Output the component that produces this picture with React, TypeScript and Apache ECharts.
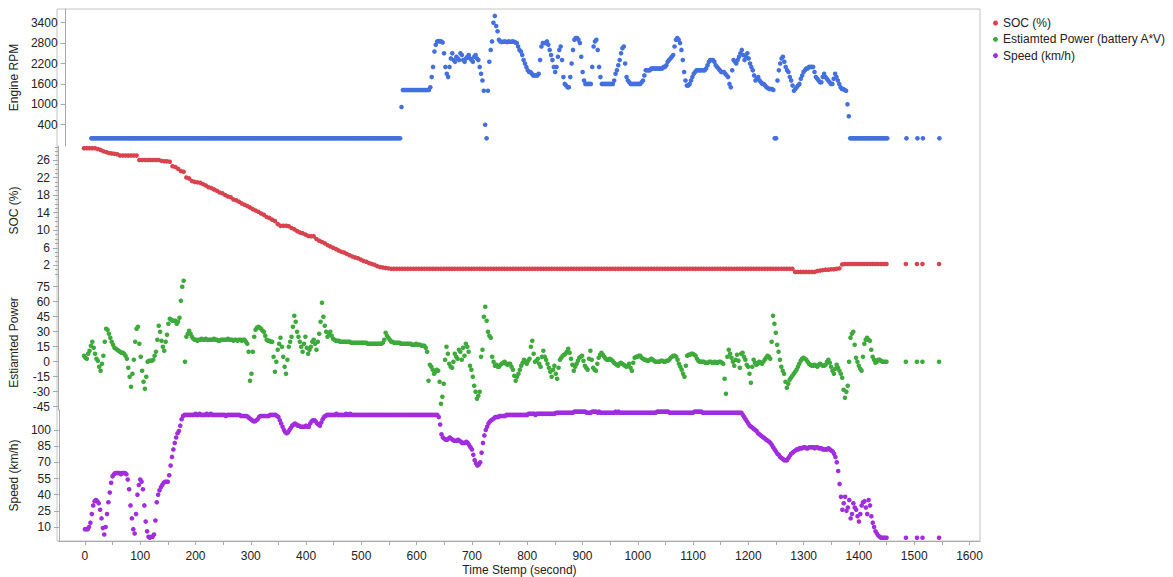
import React, { useEffect, useRef } from "react";
import * as echarts from "echarts";

// Main log sampled every 5 seconds, from t = 0 s to t = 1450 s (291 samples per series)
const SAMPLE_STEP = 5;
// Readings taken half-way between those samples (t = 2.5 s ... 1447.5 s, 290 samples)
const HALF_OFFSET = 2.5;

const engineRpm = [
  0, 0, 0, 0, 0, 0, 0, 0, 0, 0, // 0
  0, 0, 0, 0, 0, 0, 0, 0, 0, 0, // 50
  0, 0, 0, 0, 0, 0, 0, 0, 0, 0, // 100
  0, 0, 0, 0, 0, 0, 0, 0, 0, 0, // 150
  0, 0, 0, 0, 0, 0, 0, 0, 0, 0, // 200
  0, 0, 0, 0, 0, 0, 0, 0, 0, 0, // 250
  0, 0, 0, 0, 0, 0, 0, 0, 0, 0, // 300
  0, 0, 0, 0, 0, 0, 0, 0, 0, 0, // 350
  0, 0, 0, 0, 0, 0, 0, 0, 0, 0, // 400
  0, 0, 0, 0, 0, 0, 0, 0, 0, 0, // 450
  0, 0, 0, 0, 0, 0, 0, 0, 0, 0, // 500
  0, 0, 0, 920, 1420, 1420, 1420, 1420, 1420, 1420, // 550
  1420, 1420, 1420, 1420, 1800, 2550, 2850, 2850, 2820, 2100, // 600
  1800, 2350, 2300, 2400, 2300, 2450, 2250, 2400, 2350, 2250, // 650
  2450, 2300, 1900, 1400, 0, 2250, 2850, 3600, 3150, 2850, // 700
  2840, 2840, 2850, 2840, 2840, 2800, 2600, 2450, 2200, 2000, // 750
  1950, 1850, 1850, 1900, 2700, 2800, 2850, 2600, 2300, 1950, // 800
  2400, 2700, 1800, 1550, 1500, 2200, 2900, 2950, 2800, 1950, // 850
  1600, 1600, 1600, 2700, 2900, 2100, 1600, 1600, 1600, 1600, // 900
  1600, 1900, 2150, 2500, 2700, 1800, 1650, 1600, 1600, 1600, // 950
  1600, 1700, 2000, 2000, 2050, 2050, 2050, 2050, 2050, 2100, // 1000
  2250, 2350, 2450, 2900, 2900, 2600, 1950, 1550, 1600, 1800, // 1050
  1950, 2000, 2000, 2000, 2050, 2250, 2300, 2250, 2100, 2000, // 1100
  1950, 1900, 1800, 1500, 2300, 2200, 2400, 2600, 2300, 2500, // 1150
  2200, 2000, 1700, 1800, 1650, 1600, 1500, 1450, 1450, 0, // 1200
  1700, 2200, 2400, 2100, 1950, 1700, 1400, 1500, 1600, 1850, // 1250
  2000, 2050, 2100, 2100, 1800, 1700, 1650, 1900, 1750, 1650, // 1300
  1600, 1900, 1700, 1500, 1450, 1400, 650, 0, 0, 0, // 1350
  0, 0, 0, 0, 0, 0, 0, 0, 0, 0, // 1400
  0, // 1450
];

const engineRpmHalf = [
  0, 0, 0, 0, 0, 0, 0, 0, 0, 0, // 2.5
  0, 0, 0, 0, 0, 0, 0, 0, 0, 0, // 52.5
  0, 0, 0, 0, 0, 0, 0, 0, 0, 0, // 102.5
  0, 0, 0, 0, 0, 0, 0, 0, 0, 0, // 152.5
  0, 0, 0, 0, 0, 0, 0, 0, 0, 0, // 202.5
  0, 0, 0, 0, 0, 0, 0, 0, 0, 0, // 252.5
  0, 0, 0, 0, 0, 0, 0, 0, 0, 0, // 302.5
  0, 0, 0, 0, 0, 0, 0, 0, 0, 0, // 352.5
  0, 0, 0, 0, 0, 0, 0, 0, 0, 0, // 402.5
  0, 0, 0, 0, 0, 0, 0, 0, 0, 0, // 452.5
  0, 0, 0, 0, 0, 0, 0, 0, 0, 0, // 502.5
  0, 0, 0, 1420, 1420, 1420, 1420, 1420, 1420, 1420, // 552.5
  1420, 1420, 1420, 1500, 2100, 2750, 2860, 2850, 2500, 1900, // 602.5
  2100, 2500, 2250, 2350, 2500, 2300, 2350, 2450, 2300, 2400, // 652.5
  2350, 2100, 1700, 400, 1400, 2600, 3400, 3300, 2900, 2830, // 702.5
  2850, 2830, 2840, 2850, 2820, 2700, 2550, 2300, 2100, 1950, // 752.5
  1900, 1850, 1850, 2300, 2800, 2800, 2750, 2450, 2100, 2100, // 802.5
  2600, 2300, 1600, 1500, 1800, 2600, 2950, 2900, 2400, 1700, // 852.5
  1600, 1600, 2100, 2850, 2600, 1800, 1600, 1600, 1600, 1600, // 902.5
  1700, 2000, 2300, 2650, 2200, 1700, 1600, 1600, 1600, 1600, // 952.5
  1650, 1850, 2000, 2000, 2050, 2050, 2050, 2050, 2100, 2150, // 1002.5
  2300, 2400, 2700, 2950, 2800, 2300, 1700, 1550, 1700, 1900, // 1052.5
  2000, 2000, 2000, 2000, 2150, 2300, 2300, 2150, 2050, 1950, // 1102.5
  1950, 1850, 1600, 2000, 2250, 2300, 2500, 2450, 2400, 2350, // 1152.5
  2100, 1850, 1750, 1700, 1600, 1550, 1480, 1450, 1420, 0, // 1202.5
  2000, 2350, 2250, 2000, 1800, 1550, 1450, 1550, 1750, 1950, // 1252.5
  2050, 2100, 2100, 1950, 1750, 1650, 1800, 1800, 1700, 1600, // 1302.5
  1750, 1800, 1600, 1450, 1420, 1000, 0, 0, 0, 0, // 1352.5
  0, 0, 0, 0, 0, 0, 0, 0, 0, 0, // 1402.5
];

const soc = [
  28.7, 28.7, 28.7, 28.7, 28.7, 28.5, 28.3, 28.0, 27.8, 27.6, // 0
  27.5, 27.4, 27.3, 27.0, 27.0, 27.0, 27.0, 27.0, 27.0, 27.0, // 50
  26.0, 26.0, 26.0, 26.0, 26.0, 26.0, 26.0, 26.0, 25.8, 25.7, // 100
  25.7, 25.6, 24.6, 24.4, 24.0, 23.5, 23.3, 22.0, 21.8, 21.2, // 150
  21.0, 20.9, 20.8, 20.5, 20.2, 19.8, 19.6, 19.3, 19.0, 18.6, // 200
  18.4, 18.0, 17.7, 17.5, 17.0, 16.8, 16.5, 16.1, 15.8, 15.5, // 250
  15.2, 14.8, 14.5, 14.2, 13.8, 13.5, 13.0, 12.8, 12.4, 12.1, // 300
  11.4, 11.0, 11.0, 11.0, 10.9, 10.5, 10.2, 9.8, 9.5, 9.3, // 350
  9.0, 8.7, 8.6, 8.6, 8.0, 7.6, 7.3, 7.0, 6.6, 6.3, // 400
  6.0, 5.7, 5.4, 5.1, 4.9, 4.6, 4.3, 4.0, 3.8, 3.6, // 450
  3.3, 3.0, 2.8, 2.5, 2.3, 2.1, 1.8, 1.6, 1.5, 1.4, // 500
  1.3, 1.2, 1.2, 1.2, 1.2, 1.2, 1.2, 1.2, 1.2, 1.2, // 550
  1.2, 1.2, 1.2, 1.2, 1.2, 1.2, 1.2, 1.2, 1.2, 1.2, // 600
  1.2, 1.2, 1.2, 1.2, 1.2, 1.2, 1.2, 1.2, 1.2, 1.2, // 650
  1.2, 1.2, 1.2, 1.2, 1.2, 1.2, 1.2, 1.2, 1.2, 1.2, // 700
  1.2, 1.2, 1.2, 1.2, 1.2, 1.2, 1.2, 1.2, 1.2, 1.2, // 750
  1.2, 1.2, 1.2, 1.2, 1.2, 1.2, 1.2, 1.2, 1.2, 1.2, // 800
  1.2, 1.2, 1.2, 1.2, 1.2, 1.2, 1.2, 1.2, 1.2, 1.2, // 850
  1.2, 1.2, 1.2, 1.2, 1.2, 1.2, 1.2, 1.2, 1.2, 1.2, // 900
  1.2, 1.2, 1.2, 1.2, 1.2, 1.2, 1.2, 1.2, 1.2, 1.2, // 950
  1.2, 1.2, 1.2, 1.2, 1.2, 1.2, 1.2, 1.2, 1.2, 1.2, // 1000
  1.2, 1.2, 1.2, 1.2, 1.2, 1.2, 1.2, 1.2, 1.2, 1.2, // 1050
  1.2, 1.2, 1.2, 1.2, 1.2, 1.2, 1.2, 1.2, 1.2, 1.2, // 1100
  1.2, 1.2, 1.2, 1.2, 1.2, 1.2, 1.2, 1.2, 1.2, 1.2, // 1150
  1.2, 1.2, 1.2, 1.2, 1.2, 1.2, 1.2, 1.2, 1.2, 1.2, // 1200
  1.2, 1.2, 1.2, 1.2, 1.2, 1.2, 1.2, 0.5, 0.5, 0.5, // 1250
  0.5, 0.5, 0.5, 0.5, 0.5, 0.7, 0.8, 0.9, 1.0, 1.0, // 1300
  1.1, 1.1, 1.2, 1.3, 2.2, 2.3, 2.3, 2.3, 2.3, 2.3, // 1350
  2.3, 2.3, 2.3, 2.3, 2.3, 2.3, 2.3, 2.3, 2.3, 2.3, // 1400
  2.3, // 1450
];

const batteryPower = [
  6, 3, 11, 20, 8, 1, -9, 6, 33, 28, // 0
  20, 14, 12, 10, 9, 6, -6, -25, 2, 33, // 50
  18, -9, -27, 0, 1, 2, 10, 36, 21, 11, // 100
  27, 43, 41, 41, 40, 61, 81, 25, 31, 25, // 150
  22, 21, 22, 22, 23, 22, 22, 23, 22, 21, // 200
  22, 22, 23, 22, 21, 22, 22, 21, 22, 18, // 250
  -19, 10, 32, 35, 33, 30, 22, 21, 20, -10, // 300
  12, 24, 5, -12, 15, 25, 46, 30, 20, 10, // 350
  25, 8, 15, 22, 12, 28, 59, 36, 25, 30, // 400
  23, 21, 21, 20, 20, 20, 20, 19, 19, 19, // 450
  19, 19, 19, 18, 18, 18, 18, 18, 19, 29, // 500
  24, 20, 19, 19, 19, 18, 18, 18, 18, 17, // 550
  18, 17, 16, 16, 10, -3, -8, -10, -9, -42, // 600
  -22, 15, -2, -6, 8, 3, 10, 14, 18, 10, // 650
  -8, -24, -37, -30, 12, 55, 30, 24, 0, -3, // 700
  -5, -2, 0, -3, -2, -8, -19, -12, -4, 2, // 750
  -2, 3, 21, 0, 3, -5, 11, 2, -6, -15, // 800
  -4, -17, 2, 6, 8, 13, 3, -9, -2, 4, // 850
  6, -4, -8, 11, -6, -9, 4, 9, 5, 2, // 900
  3, 1, -2, -4, -1, -3, -5, -2, -9, 4, // 950
  5, 6, 3, 2, 1, 3, 1, 0, 0, 1, // 1000
  0, 1, 4, 6, 5, -2, -8, -15, 6, 7, // 1050
  8, 6, 1, 0, 0, -1, 0, -1, 0, -1, // 1100
  0, -2, -32, 12, 4, -4, 7, -6, 9, 2, // 1150
  -5, -21, 2, -3, 0, -2, 2, 6, 3, 46, // 1200
  29, 10, -5, -12, -26, -18, -14, -10, -5, 1, // 1250
  4, 2, -2, -4, -3, -5, -2, -4, -3, 2, // 1300
  -5, -12, -3, -9, -16, -36, -24, 24, 30, 4, // 1350
  -4, -9, 18, 24, 21, 5, -1, 2, 1, 0, // 1400
  0, // 1450
];

const batteryPowerHalf = [
  4, 8, 16, 14, 3, -5, -2, 20, 32, 24, // 2.5
  17, 13, 11, 9, 8, 3, -15, -12, 20, 35, // 52.5
  5, -20, -15, 1, 1, 6, 22, 30, 15, 20, // 102.5
  38, 42, 41, 38, 44, 75, 0, 28, 28, 23, // 152.5
  22, 22, 23, 22, 22, 22, 22, 22, 21, 22, // 202.5
  22, 22, 22, 22, 22, 21, 22, 22, 20, 10, // 252.5
  -12, 25, 34, 34, 31, 26, 21, 20, 5, 0, // 302.5
  18, 15, -5, 2, 20, 35, 40, 25, 15, 18, // 352.5
  14, 12, 20, 18, 20, 40, 45, 30, 28, 26, // 402.5
  22, 21, 20, 20, 20, 20, 19, 19, 19, 19, // 452.5
  19, 19, 18, 18, 18, 18, 18, 18, 22, 26, // 502.5
  22, 20, 19, 19, 18, 18, 18, 18, 17, 17, // 552.5
  17, 17, 16, 14, -19, -5, -12, -8, -20, -35, // 602.5
  2, 8, -5, 0, 5, 12, 2, 6, 15, -4, // 652.5
  -15, -30, -34, 5, 45, 41, 26, 5, -4, -5, // 702.5
  -3, -1, -2, -2, -5, -14, -15, -8, -1, 0, // 752.5
  1, 15, 8, 1, -2, 5, 5, -2, -10, -8, // 802.5
  -12, -6, 4, 7, 10, 9, -3, -5, 1, 5, // 852.5
  1, -6, 3, 2, -8, -2, 7, 7, 3, 2, // 902.5
  2, -1, -3, -2, -2, -4, -4, -6, -1, 5, // 952.5
  6, 4, 2, 1, 2, 2, 0, 0, 1, 0, // 1002.5
  1, 2, 5, 6, 2, -5, -12, -4, 7, 8, // 1052.5
  7, 3, 0, 0, -1, -1, 0, -1, -1, 0, // 1102.5
  -1, -17, 5, 8, 0, 2, 1, 8, 5, -3, // 1152.5
  -12, -5, -1, -2, -1, 0, 4, 5, 20, 38, // 1202.5
  17, 2, -9, -20, -22, -16, -12, -8, -2, 3, // 1252.5
  3, 0, -3, -4, -4, -3, -3, -4, 0, -1, // 1302.5
  -9, -7, -6, -12, -28, -30, 0, 28, 17, 0, // 1352.5
  -7, 5, 22, 22, 12, 2, 0, 2, 0, 0, // 1402.5
];

const speed = [
  8, 8, 14, 30, 35, 32, 18, 3, 22, 42, // 0
  57, 60, 60, 59, 60, 59, 45, 18, 4, 40, // 50
  54, 45, 15, 1, 1, 3, 33, 44, 49, 52, // 100
  52, 67, 82, 93, 99, 110, 114, 114, 114, 114, // 150
  115, 114, 114, 114, 115, 114, 114, 114, 114, 114, // 200
  114, 113, 114, 114, 114, 114, 114, 113, 113, 112, // 250
  110, 108, 109, 112, 113, 113, 113, 114, 114, 114, // 300
  112, 106, 100, 97, 100, 104, 106, 104, 103, 103, // 350
  104, 103, 108, 109, 106, 104, 110, 113, 114, 114, // 400
  114, 115, 114, 114, 114, 114, 115, 114, 114, 114, // 450
  114, 114, 114, 114, 114, 114, 114, 114, 114, 114, // 500
  114, 114, 114, 114, 114, 114, 114, 114, 114, 114, // 550
  114, 114, 114, 114, 114, 114, 114, 114, 112, 96, // 600
  92, 91, 93, 91, 90, 91, 89, 88, 89, 86, // 650
  82, 72, 67, 70, 88, 100, 106, 109, 111, 112, // 700
  113, 113, 113, 114, 114, 114, 114, 114, 114, 114, // 750
  114, 115, 115, 114, 115, 115, 115, 115, 115, 115, // 800
  115, 116, 116, 116, 116, 116, 116, 117, 117, 117, // 850
  117, 117, 116, 116, 117, 117, 117, 116, 116, 116, // 900
  116, 116, 117, 117, 116, 116, 116, 116, 116, 116, // 950
  116, 116, 116, 116, 116, 116, 116, 117, 117, 117, // 1000
  117, 117, 116, 116, 116, 116, 116, 116, 116, 116, // 1050
  116, 117, 117, 117, 116, 116, 116, 116, 116, 116, // 1100
  116, 116, 116, 116, 116, 116, 116, 116, 114, 110, // 1150
  106, 103, 101, 99, 96, 94, 92, 90, 88, 84, // 1200
  80, 77, 74, 72, 72, 76, 79, 81, 82, 83, // 1250
  84, 83, 84, 84, 83, 84, 83, 82, 82, 83, // 1300
  81, 78, 70, 50, 26, 38, 28, 18, 32, 26, // 1350
  15, 30, 34, 22, 30, 14, 6, 2, 0, 0, // 1400
  0, // 1450
];

const speedHalf = [
  8, 10, 22, 34, 34, 26, 9, 10, 33, 51, // 2.5
  59, 60, 60, 60, 60, 54, 30, 8, 22, 49, // 52.5
  52, 30, 6, 0, 1, 16, 40, 47, 51, 52, // 102.5
  58, 75, 88, 97, 104, 113, 114, 114, 114, 114, // 152.5
  114, 115, 114, 114, 114, 115, 114, 114, 114, 114, // 202.5
  114, 114, 114, 114, 114, 114, 113, 113, 113, 111, // 252.5
  109, 108, 110, 113, 113, 113, 113, 114, 114, 113, // 302.5
  109, 103, 98, 98, 102, 105, 105, 104, 103, 103, // 352.5
  103, 106, 109, 108, 105, 107, 112, 114, 114, 114, // 402.5
  114, 114, 114, 114, 115, 114, 114, 114, 114, 114, // 452.5
  114, 114, 114, 114, 114, 114, 114, 114, 114, 114, // 502.5
  114, 114, 114, 114, 114, 114, 114, 114, 114, 114, // 552.5
  114, 114, 114, 114, 114, 114, 114, 114, 105, 93, // 602.5
  91, 92, 92, 90, 90, 90, 88, 88, 88, 84, // 652.5
  77, 69, 68, 79, 95, 103, 108, 110, 112, 112, // 702.5
  113, 113, 114, 114, 114, 114, 114, 114, 114, 114, // 752.5
  115, 115, 115, 115, 115, 115, 115, 115, 115, 115, // 802.5
  116, 116, 116, 116, 116, 116, 116, 117, 117, 117, // 852.5
  117, 116, 116, 117, 117, 116, 116, 116, 116, 116, // 902.5
  116, 116, 116, 116, 116, 116, 116, 116, 116, 116, // 952.5
  116, 116, 116, 116, 116, 116, 116, 117, 117, 117, // 1002.5
  117, 116, 116, 116, 116, 116, 116, 116, 116, 116, // 1052.5
  117, 117, 117, 116, 116, 116, 116, 116, 116, 116, // 1102.5
  116, 116, 116, 116, 116, 116, 116, 116, 112, 108, // 1152.5
  104, 102, 100, 97, 95, 93, 91, 89, 86, 82, // 1202.5
  78, 75, 73, 72, 74, 78, 80, 82, 83, 83, // 1252.5
  84, 83, 84, 84, 84, 83, 83, 82, 82, 82, // 1302.5
  80, 75, 62, 38, 32, 25, 35, 22, 28, 20, // 1352.5
  22, 33, 28, 35, 20, 10, 4, 1, 0, 0, // 1402.5
];

// Sparse samples logged after the main run
const tailTimes = [1485, 1505, 1515, 1545];
const tailRpm = [0, 0, 0, 0];
const tailSoc = [2.3, 2.3, 2.3, 2.3];
const tailPower = [0, 0, 0, 0];
const tailSpeed = [0, 0, 0, 0];

// Axis tick labels
const timeLabels = [0, 100, 200, 300, 400, 500, 600, 700, 800, 900, 1000, 1100, 1200, 1300, 1400, 1500, 1600];
const timeTicks = [
  -50, 0, 50, 100, 150, 200, 250, 300, 350, 400, 450, 500, 550, 600, 650, 700, 750, 800,
  850, 900, 950, 1000, 1050, 1100, 1150, 1200, 1250, 1300, 1350, 1400, 1450, 1500, 1550, 1600,
];
const rpmLabels = [400, 1000, 1600, 2200, 2800, 3400];
const socLabels = [2, 6, 10, 14, 18, 22, 26];
const socMinorTicks = [0, 1, 3, 4, 5, 7, 8, 9, 11, 12, 13, 15, 16, 17, 19, 20, 21, 23, 24, 25, 27, 28, 29];
const powerLabels = [-45, -30, -15, 0, 15, 30, 45, 60, 75];
const speedLabels = [10, 25, 40, 55, 70, 85, 100];

const seriesNames = {
  rpm: "Engine RPM",
  soc: "SOC (%)",
  power: "Estiamted Power (battery A*V)",
  speed: "Speed (km/h)",
};

const COLORS = {
  rpm: "#4470DE",
  soc: "#D7434F",
  power: "#3DAA3B",
  speed: "#A12DDD",
};

const FONT = 'Arial, "Liberation Sans", Helvetica, sans-serif';
const AXIS_GREY = "#a9a9a9";
const LABEL_COLOR = "#222";

function toPoints(values: number[], halfValues: number[], tailValues: number[]): number[][] {
  const pts: number[][] = [];
  values.forEach((v, i) => {
    pts.push([i * SAMPLE_STEP, v]);
    if (i < halfValues.length) pts.push([i * SAMPLE_STEP + HALF_OFFSET, halfValues[i]]);
  });
  tailValues.forEach((v, i) => pts.push([tailTimes[i], v]));
  return pts;
}

const X_MIN = -47;
const X_MAX = 1619;

const plain = (v: number) => String(v);

function hiddenX(gridIndex: number) {
  return {
    type: "value",
    gridIndex,
    min: X_MIN,
    max: X_MAX,
    show: false,
    splitLine: { show: false },
  };
}

function yAxisFor(gridIndex: number, min: number, max: number, labels: number[], name: string) {
  return {
    type: "value",
    gridIndex,
    min,
    max,
    name,
    nameLocation: "middle",
    nameGap: 38,
    nameTextStyle: { color: LABEL_COLOR, fontSize: 12, fontFamily: FONT },
    axisLine: { show: true, onZero: false, lineStyle: { color: AXIS_GREY, width: 1 } },
    axisTick: { show: true, length: 5, customValues: labels, lineStyle: { color: AXIS_GREY } },
    axisLabel: {
      customValues: labels,
      formatter: plain,
      color: LABEL_COLOR,
      fontSize: 12,
      fontFamily: FONT,
      margin: 8,
    },
    splitLine: { show: false },
  };
}

export default function App() {
  const ref = useRef<HTMLDivElement>(null);

  useEffect(() => {
    if (!ref.current) return;
    const chart = echarts.init(ref.current, undefined, { renderer: "svg" });

    const grids = [
      { left: 57, right: 193, top: 9, height: 137 },
      { left: 57, right: 193, top: 146, height: 129 },
      { left: 57, right: 193, top: 275, height: 135 },
      { left: 57, right: 193, top: 410, height: 131 },
      // outer frame
      { left: 57, right: 193, top: 9, bottom: 36, show: true, borderColor: "#c4c4c4", borderWidth: 1, backgroundColor: "transparent" },
    ];

    const scatter = (name: string, color: string, idx: number, data: number[][]) => ({
      name,
      type: "scatter",
      xAxisIndex: idx,
      yAxisIndex: idx,
      data,
      symbol: "circle",
      symbolSize: 4.6,
      itemStyle: { color, opacity: 1 },
      emphasis: { disabled: true },
      clip: false,
      large: false,
    });

    chart.setOption({
      animation: false,
      backgroundColor: "#ffffff",
      textStyle: { fontFamily: FONT },
      grid: grids,
      legend: {
        data: [seriesNames.soc, seriesNames.power, seriesNames.speed],
        orient: "vertical",
        left: 988,
        top: 11,
        icon: "circle",
        itemWidth: 5,
        itemHeight: 5,
        itemGap: 2.3,
        selectedMode: false,
        textStyle: { fontSize: 12, lineHeight: 14, color: LABEL_COLOR, fontFamily: FONT },
      },
      xAxis: [
        hiddenX(0),
        hiddenX(1),
        hiddenX(2),
        {
          type: "value",
          gridIndex: 3,
          min: X_MIN,
          max: X_MAX,
          name: "Time Stemp (second)",
          nameLocation: "middle",
          nameGap: 23,
          nameTextStyle: { color: LABEL_COLOR, fontSize: 12, fontFamily: FONT },
          axisLine: { show: true, onZero: false, lineStyle: { color: AXIS_GREY } },
          axisTick: { show: true, length: 4, customValues: timeTicks, lineStyle: { color: AXIS_GREY } },
          axisLabel: {
            customValues: timeLabels,
            formatter: plain,
            color: LABEL_COLOR,
            fontSize: 12,
            fontFamily: FONT,
            margin: 9,
          },
          splitLine: { show: false },
        },
        hiddenX(4),
      ],
      yAxis: [
        yAxisFor(0, -226, 3803, rpmLabels, "Engine RPM"),
        yAxisFor(1, -0.21, 29.19, socLabels, "SOC (%)"),
        yAxisFor(2, -48.3, 86.7, powerLabels, "Estiamted Power"),
        yAxisFor(3, -2.99, 118.56, speedLabels, "Speed (km/h)"),
        { type: "value", gridIndex: 4, show: false, min: 0, max: 1, splitLine: { show: false } },
        {
          type: "value",
          gridIndex: 1,
          min: -0.21,
          max: 29.19,
          position: "left",
          axisLine: { show: false, onZero: false },
          axisTick: { show: true, length: 3, customValues: socMinorTicks, lineStyle: { color: AXIS_GREY } },
          axisLabel: { show: false },
          splitLine: { show: false },
        },
      ],
      series: [
        scatter(seriesNames.rpm, COLORS.rpm, 0, toPoints(engineRpm, engineRpmHalf, tailRpm)),
        scatter(seriesNames.soc, COLORS.soc, 1, toPoints(soc, [], tailSoc)),
        scatter(seriesNames.power, COLORS.power, 2, toPoints(batteryPower, batteryPowerHalf, tailPower)),
        scatter(seriesNames.speed, COLORS.speed, 3, toPoints(speed, speedHalf, tailSpeed)),
      ],
    });

    return () => chart.dispose();
  }, []);

  return (
    <div
      ref={ref}
      style={{ position: "fixed", left: 0, top: 0, width: 1173, height: 577, background: "#fff" }}
    />
  );
}
